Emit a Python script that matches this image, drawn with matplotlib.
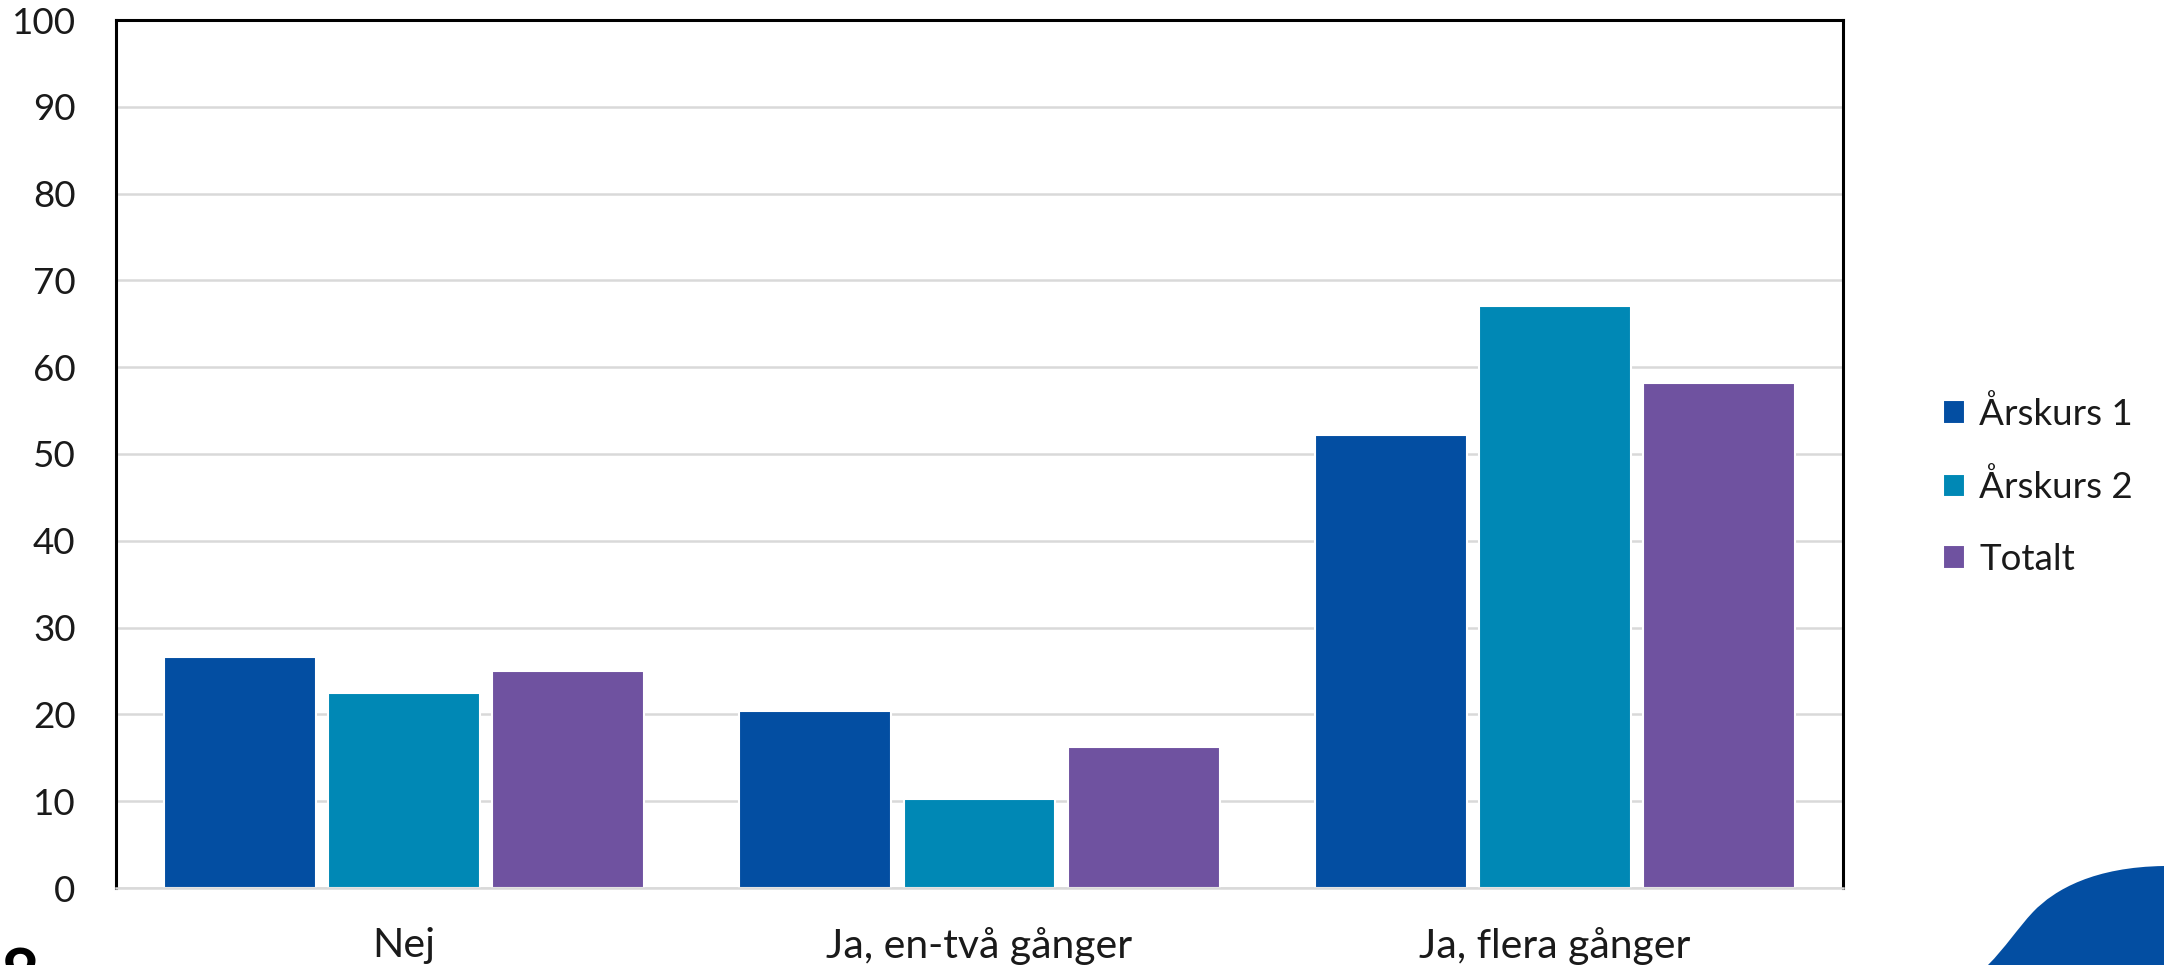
import numpy as np
import matplotlib
matplotlib.use("Agg")
import matplotlib.pyplot as plt
from matplotlib.path import Path
from matplotlib.patches import PathPatch

plt.rcParams['font.family'] = ['Lato', 'DejaVu Sans']

categories = ["Nej", "Ja, en-två gånger", "Ja, flera gånger"]
series = ["Årskurs 1", "Årskurs 2", "Totalt"]
arskurs1 = [26.6, 20.4, 52.2]
arskurs2 = [22.5, 10.2, 67.0]
totalt = [25.0, 16.2, 58.2]
y_ticks = list(range(0, 101, 10))

colors = ["#034EA2", "#0088B5", "#6F52A0"]

W, H = 2164, 965
fig = plt.figure(figsize=(W / 100, H / 100), dpi=100)
ax = fig.add_axes([116 / W, 1 - 888 / H, (1843 - 116) / W, (888 - 20) / H])

x = np.arange(len(categories))
step = 0.285
width = 0.264
for i, (name, vals) in enumerate(zip(series, [arskurs1, arskurs2, totalt])):
    ax.bar(x + (i - 1) * step, vals, width, color=colors[i], label=name,
           edgecolor="white", linewidth=1.5)

ax.set_xlim(-0.5, 2.5)
ax.set_ylim(0, 100)
ax.set_yticks(y_ticks)
ax.set_xticks(x)
ax.set_xticklabels(categories)
ax.tick_params(axis="both", length=0, colors="#1a1a1a")
ax.tick_params(axis="y", pad=29, labelsize=26.5)
ax.tick_params(axis="x", pad=28, labelsize=29.5)
ax.set_axisbelow(True)
ax.yaxis.grid(True, color="#D9D9D9", linewidth=1.8)

for s in ["left", "top", "right"]:
    ax.spines[s].set_color("black")
    ax.spines[s].set_linewidth(2.2)
ax.spines["bottom"].set_color("#D9D9D9")
ax.spines["bottom"].set_linewidth(1.8)

leg = fig.legend(loc="center left", bbox_to_anchor=(1943 / W, 1 - 486 / H),
                 frameon=False, fontsize=26.5, handlelength=0.6, handleheight=0.6,
                 handletextpad=0.38, labelspacing=1.05, borderpad=0, borderaxespad=0)
for t in leg.get_texts():
    t.set_color("#1a1a1a")

# page number cut off at the bottom edge
fig.text(0 / W, 1 - 998 / H, "8", fontsize=48, fontweight="bold", ha="left",
         va="baseline", color="black")

# decorative wave, bottom right corner
pts = [(1988, 965), (2005, 948), (2018, 928), (2033, 912),
       (2055, 889), (2095, 867), (2164, 866), (2164, 965), (1988, 965)]
codes = [Path.MOVETO, Path.CURVE4, Path.CURVE4, Path.CURVE4,
         Path.CURVE4, Path.CURVE4, Path.CURVE4, Path.LINETO, Path.CLOSEPOLY]
verts = [(px / W, 1 - py / H) for px, py in pts]
fig.patches.append(PathPatch(Path(verts, codes), transform=fig.transFigure,
                             facecolor="#034EA2", edgecolor="none"))

fig.savefig("out.png", dpi=100)
